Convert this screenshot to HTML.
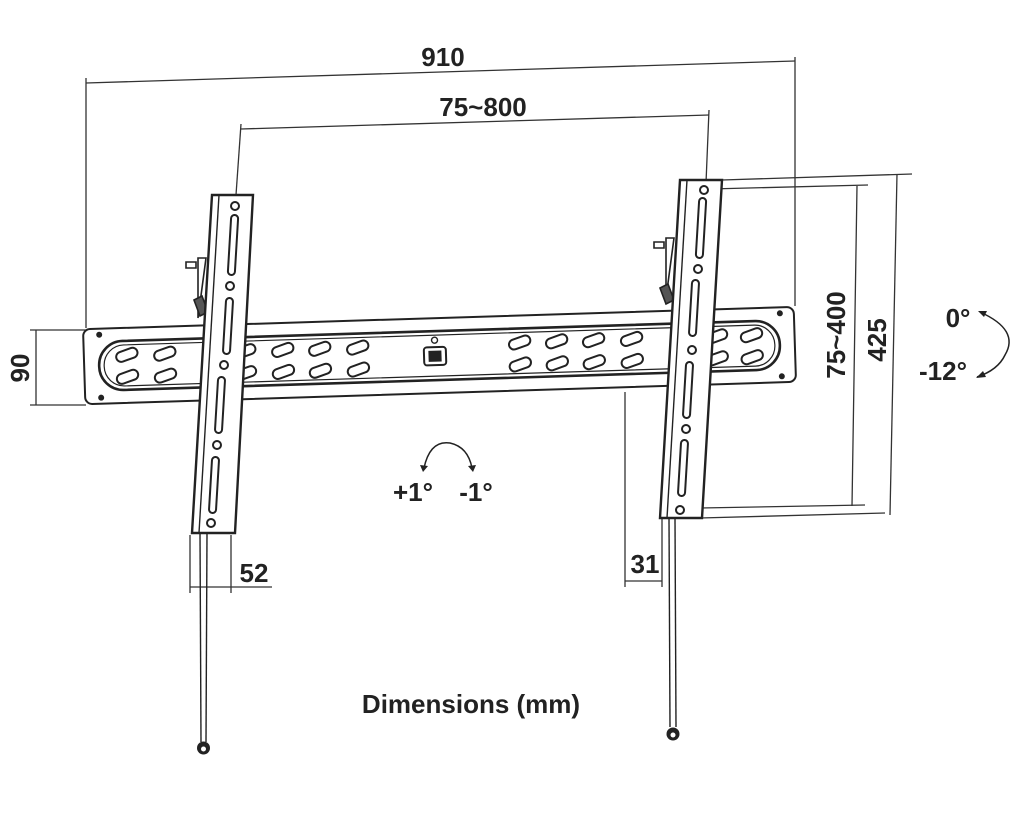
<!DOCTYPE html>
<html><head><style>body{margin:0;background:#fff}svg{display:block}text{font-family:"Liberation Sans",Arial,sans-serif;font-weight:bold;fill:#222}</style></head>
<body>
<svg width="1024" height="819" viewBox="0 0 1024 819" xmlns="http://www.w3.org/2000/svg">
<defs>
<g id="ov"><rect x="-11" y="-5" width="22" height="10" rx="5" fill="#fff" stroke="#222" stroke-width="2" transform="rotate(-18)"/></g>
</defs>
<g stroke="#333" stroke-width="1.3" fill="none">
<line x1="86" y1="78" x2="86" y2="328"/><line x1="795" y1="57" x2="795" y2="306"/>
<line x1="86" y1="83" x2="795" y2="61"/>
<line x1="241" y1="124" x2="236" y2="195"/><line x1="709" y1="110" x2="706" y2="183"/>
<line x1="241" y1="129" x2="709" y2="115"/>
<line x1="30" y1="330" x2="86" y2="330"/><line x1="30" y1="405" x2="86" y2="405"/>
<line x1="36" y1="330" x2="36" y2="405"/>
<line x1="722" y1="180" x2="912" y2="174"/><line x1="700" y1="518" x2="885" y2="513"/>
<line x1="897" y1="174" x2="890" y2="515"/>
<line x1="710" y1="189" x2="868" y2="185"/><line x1="700" y1="508" x2="865" y2="505"/>
<line x1="857" y1="186" x2="852" y2="506"/>
<line x1="190" y1="535" x2="190" y2="593"/><line x1="231" y1="535" x2="231" y2="593"/>
<line x1="190" y1="587" x2="272" y2="587"/>
<line x1="625" y1="392" x2="625" y2="587"/><line x1="662" y1="510" x2="662" y2="587"/>
<line x1="625" y1="581" x2="662" y2="581"/>
</g>
<g transform="rotate(-1.8 440 355)" stroke="#222" fill="#fff">
<rect x="84" y="318" width="711" height="75" rx="7" stroke-width="2"/>
<rect x="99" y="331" width="681" height="49" rx="24" stroke-width="2.6"/>
<rect x="104" y="335" width="671" height="41" rx="20" stroke-width="1.2" fill="none"/>
<circle cx="100" cy="324" r="2.5" fill="#222"/><circle cx="100" cy="387" r="2.5" fill="#222"/>
<circle cx="781" cy="324" r="2.5" fill="#222"/><circle cx="781" cy="387" r="2.5" fill="#222"/>
<g>
<use href="#ov" x="127" y="345"/><use href="#ov" x="127" y="367"/>
<use href="#ov" x="165" y="345"/><use href="#ov" x="165" y="367"/>
<use href="#ov" x="245" y="345"/><use href="#ov" x="245" y="367"/>
<use href="#ov" x="283" y="345"/><use href="#ov" x="283" y="367"/>
<use href="#ov" x="320" y="345"/><use href="#ov" x="320" y="367"/>
<use href="#ov" x="358" y="345"/><use href="#ov" x="358" y="367"/>
<use href="#ov" x="520" y="345"/><use href="#ov" x="520" y="367"/>
<use href="#ov" x="557" y="345"/><use href="#ov" x="557" y="367"/>
<use href="#ov" x="594" y="345"/><use href="#ov" x="594" y="367"/>
<use href="#ov" x="632" y="345"/><use href="#ov" x="632" y="367"/>
<use href="#ov" x="717" y="345"/><use href="#ov" x="717" y="367"/>
<use href="#ov" x="752" y="345"/><use href="#ov" x="752" y="367"/>
</g>
<rect x="424" y="347" width="22" height="18" rx="3" stroke-width="2"/>
<rect x="429" y="351" width="12" height="10" fill="#222"/>
<circle cx="435" cy="340" r="3" stroke-width="1.4"/>
</g>
<g stroke="#222" stroke-width="1.4" fill="none">
<line x1="200" y1="533" x2="201" y2="742"/><line x1="207" y1="533" x2="206" y2="742"/>
<line x1="669" y1="518" x2="670" y2="727"/><line x1="675" y1="518" x2="676" y2="727"/>
</g>
<circle cx="203.5" cy="748" r="6.5" fill="#222"/><circle cx="203.5" cy="749" r="2.5" fill="#fff"/>
<circle cx="673" cy="734" r="6.5" fill="#222"/><circle cx="673" cy="735" r="2.5" fill="#fff"/>
<g stroke="#222" fill="#fff">
<path d="M196 262 l-10 0 l0 6 l10 0 Z M198 258 l8 0 l-8 60 Z" stroke-width="1.6"/>
<path d="M194 300 l8 -4 l6 16 l-8 4 Z" stroke-width="1.6" fill="#555"/>
<polygon points="212,195 253,195 235,533 192,533" stroke-width="2.4"/>
<line x1="219" y1="195" x2="199" y2="533" stroke-width="1.4"/>
<g fill="#fff" stroke-width="2">
<circle cx="235" cy="206" r="4"/>
<rect x="-3.5" y="-30" width="7" height="60" rx="3.5" transform="translate(233 245) rotate(3.4)"/>
<circle cx="230" cy="286" r="4"/>
<rect x="-3.5" y="-28" width="7" height="56" rx="3.5" transform="translate(228 326) rotate(3.4)"/>
<circle cx="224" cy="365" r="4"/>
<rect x="-3.5" y="-28" width="7" height="56" rx="3.5" transform="translate(220 405) rotate(3.4)"/>
<circle cx="217" cy="445" r="4"/>
<rect x="-3.5" y="-28" width="7" height="56" rx="3.5" transform="translate(214 485) rotate(3.4)"/>
<circle cx="211" cy="523" r="4"/>
</g>
</g>
<g stroke="#222" fill="#fff">
<path d="M664 242 l-10 0 l0 6 l10 0 Z M666 238 l8 0 l-8 60 Z" stroke-width="1.6"/>
<path d="M660 288 l8 -4 l6 16 l-8 4 Z" stroke-width="1.6" fill="#555"/>
<polygon points="680,180 722,180 702,518 660,518" stroke-width="2.4"/>
<line x1="687" y1="180" x2="667" y2="518" stroke-width="1.4"/>
<g fill="#fff" stroke-width="2">
<circle cx="704" cy="190" r="4"/>
<rect x="-3.5" y="-30" width="7" height="60" rx="3.5" transform="translate(701 228) rotate(3.4)"/>
<circle cx="698" cy="269" r="4"/>
<rect x="-3.5" y="-28" width="7" height="56" rx="3.5" transform="translate(694 308) rotate(3.4)"/>
<circle cx="692" cy="350" r="4"/>
<rect x="-3.5" y="-28" width="7" height="56" rx="3.5" transform="translate(688 390) rotate(3.4)"/>
<circle cx="686" cy="429" r="4"/>
<rect x="-3.5" y="-28" width="7" height="56" rx="3.5" transform="translate(683 468) rotate(3.4)"/>
<circle cx="680" cy="510" r="4"/>
</g>
</g>
<g stroke="#222" stroke-width="1.5" fill="none">
<path d="M980 312 Q1020 330 1005 355 Q998 370 977 377"/>
<path d="M424 468 Q430 440 450 443 Q468 447 472 468"/>
</g>
<polygon points="978,311 987,311 984,317" fill="#222"/>
<polygon points="976,378 983,371 986,377" fill="#222"/>
<polygon points="420,465 428,466 423,472" fill="#222"/>
<polygon points="468,466 476,465 473,472" fill="#222"/>
<g font-size="26">
<text x="443" y="66" text-anchor="middle">910</text>
<text x="483" y="116" text-anchor="middle">75~800</text>
<text x="0" y="0" text-anchor="middle" transform="translate(29 368) rotate(-90)">90</text>
<text x="0" y="0" text-anchor="middle" transform="translate(845 335) rotate(-90)">75~400</text>
<text x="0" y="0" text-anchor="middle" transform="translate(886 340) rotate(-90)">425</text>
<text x="254" y="582" text-anchor="middle">52</text>
<text x="645" y="573" text-anchor="middle">31</text>
<text x="958" y="327" text-anchor="middle">0°</text>
<text x="943" y="380" text-anchor="middle">-12°</text>
<text x="413" y="501" text-anchor="middle">+1°</text>
<text x="476" y="501" text-anchor="middle">-1°</text>
<text x="471" y="713" text-anchor="middle" font-size="26">Dimensions (mm)</text>
</g>
</svg>
</body></html>
